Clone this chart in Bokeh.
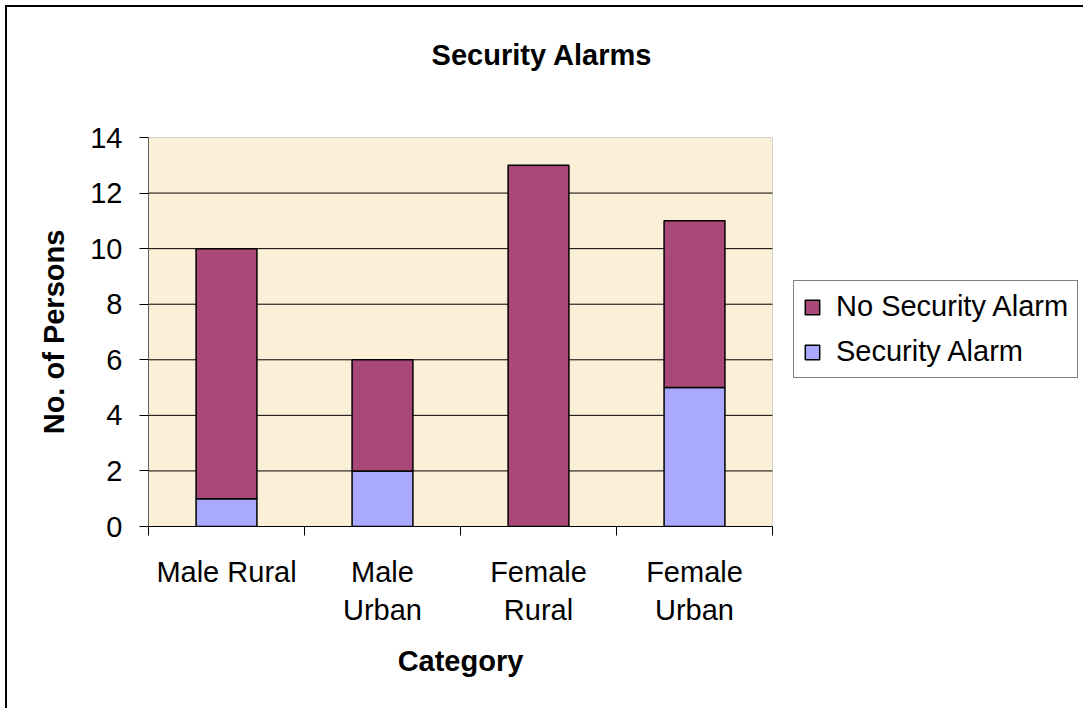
from bokeh.plotting import figure
from bokeh.models import (Range1d, LinearAxis, FixedTicker, InlineStyleSheet, BoxAnnotation,
                          Legend, LegendItem, Label, ColumnDataSource)
from bokeh.embed import file_html
from bokeh.resources import INLINE

# ---- data ----
categories = ["Male Rural", "Male Urban", "Female Rural", "Female Urban"]
tick_labels = ["Male Rural", "Male\nUrban", "Female\nRural", "Female\nUrban"]
security_alarm = [1, 2, 0, 5]
no_security_alarm = [9, 4, 13, 6]
y_ticks = [0, 2, 4, 6, 8, 10, 12, 14]
series_names = ["Security Alarm", "No Security Alarm"]
chart_title = "Security Alarms"
x_title = "Category"
y_title = "No. of Persons"

FONT = "Liberation Sans"
FS = "29px"
BLUE = "#A9A9FF"
PURPLE = "#A8497A"
BEIGE = "#FCEFD8"

# ---- layout (pixels) ----
W, H = 1083, 708
LEFT, BOTTOM = 148, 182
AREA_W, AREA_H = 624, 389          # shaded plot area size

n = len(categories)
centers = [i + 0.5 for i in range(n)]      # category slot centres
edges = [i for i in range(n + 1)]          # category slot boundaries
y_min, y_max = y_ticks[0], y_ticks[-1]
# the frame spans the whole canvas above/right of the axes (room for title & legend)
x_end = n * (W - LEFT) / AREA_W
y_end = y_max * (H - BOTTOM) / AREA_H

p = figure(width=W, height=H, x_range=Range1d(0, x_end), y_range=Range1d(y_min, y_end),
           output_backend="svg", toolbar_location=None, x_axis_location=None,
           min_border_left=LEFT, min_border_right=0, min_border_top=0, min_border_bottom=BOTTOM)
p.title.text = ""
p.title.standoff = 0
p.background_fill_color = "white"
p.border_fill_color = "white"
p.outline_line_color = None

# shaded plot area with grey outline
area = BoxAnnotation(left=0, right=n, bottom=y_min, top=y_max, level="underlay",
                     fill_color=BEIGE, fill_alpha=1.0, line_color="#808080", line_width=1)
p.add_layout(area)

# horizontal grid lines, limited to the plot area
grid_y = [t for t in y_ticks if y_min < t < y_max]
p.segment(x0=[0] * len(grid_y), x1=[n] * len(grid_y), y0=grid_y, y1=grid_y,
          line_color="black", line_width=1)

source = ColumnDataSource(dict(x=centers, cat=categories, sec=security_alarm, nosec=no_security_alarm))
rs = p.vbar_stack(["sec", "nosec"], x="x", width=0.39, source=source,
                  fill_color=[BLUE, PURPLE], line_color="black", line_width=1.5)

# y axis (ticks + numbers)
ya = p.yaxis[0]
ya.ticker = FixedTicker(ticks=y_ticks)
ya.bounds = (y_min, y_max)
ya.major_tick_out = 9
ya.major_tick_in = 0
ya.minor_tick_line_color = None
ya.major_tick_line_color = "black"
ya.axis_line_color = "#606060"
ya.major_label_text_font = FONT
ya.major_label_text_font_size = FS
ya.major_label_text_color = "black"
ya.major_label_standoff = 17

# y axis title, centred on the plot area
y_mid = (y_min + y_max) / 2
ytitle_axis = LinearAxis(ticker=FixedTicker(ticks=[y_mid]), bounds=(y_min, y_max),
                         major_label_overrides={y_mid: y_title},
                         major_label_orientation="vertical",
                         major_tick_line_color=None, major_tick_out=0, major_tick_in=0,
                         minor_tick_line_color=None, axis_line_color=None,
                         major_label_standoff=18, major_label_text_font=FONT,
                         major_label_text_font_size=FS, major_label_text_font_style="bold",
                         major_label_text_color="black")
p.add_layout(ytitle_axis, "left")

p.ygrid.grid_line_color = None
if p.xgrid:
    p.xgrid.grid_line_color = None

# x axis: ticks at category boundaries (no labels)
edge_axis = LinearAxis(ticker=FixedTicker(ticks=edges), bounds=(0, n),
                       major_tick_out=9, major_tick_in=0, minor_tick_line_color=None,
                       major_label_overrides={t: "" for t in edges},
                       major_label_text_font_size="1px", major_label_standoff=0,
                       axis_line_color="black", major_tick_line_color="black")
p.add_layout(edge_axis, "below")

# category labels at slot centres
cat_axis = LinearAxis(ticker=FixedTicker(ticks=centers), bounds=(0, n),
                      major_label_overrides=dict(zip(centers, tick_labels)),
                      major_tick_line_color=None, major_tick_out=0, major_tick_in=0,
                      minor_tick_line_color=None,
                      axis_line_color=None, major_label_standoff=20,
                      major_label_text_font=FONT, major_label_text_font_size=FS,
                      major_label_text_color="black")
p.add_layout(cat_axis, "below")

# x axis title, centred on the plot area
x_mid = n / 2
xtitle_axis = LinearAxis(ticker=FixedTicker(ticks=[x_mid]), bounds=(0, n),
                         major_label_overrides={x_mid: x_title},
                         major_tick_line_color=None, major_tick_out=0, major_tick_in=0,
                         minor_tick_line_color=None, axis_line_color=None,
                         major_label_standoff=16, major_label_text_font=FONT,
                         major_label_text_font_size=FS, major_label_text_font_style="bold",
                         major_label_text_color="black")
p.add_layout(xtitle_axis, "below")

# legend
legend = Legend(items=[LegendItem(label=series_names[1], renderers=[rs[1]]),
                       LegendItem(label=series_names[0], renderers=[rs[0]])],
                location=(645, 148), orientation="vertical",
                label_text_font=FONT, label_text_font_size=FS, label_text_color="black",
                glyph_width=18, glyph_height=18, label_standoff=15, spacing=12,
                padding=9, margin=0, border_line_color="black", border_line_width=1,
                background_fill_color="white", background_fill_alpha=1.0)
p.add_layout(legend)

# chart title (centred on the whole chart)
title = Label(x=W / 2, y=54, x_units="canvas", y_units="canvas", text=chart_title,
              text_align="center", text_baseline="alphabetic", text_font=FONT,
              text_font_size=FS, text_font_style="bold", text_color="black")
p.add_layout(title)

# outer border (top & left visible)
p.stylesheets = [InlineStyleSheet(css="""
:host { position: relative; }
:host::before { content: ""; position: absolute; left: 5px; top: 5px; width: 1078px;
  height: 2px; background: black; pointer-events: none; z-index: 10; }
:host::after { content: ""; position: absolute; left: 5px; top: 5px; height: 703px;
  width: 2px; background: black; pointer-events: none; z-index: 10; }
""")]

open("out.html", "w").write(file_html(p, INLINE))
